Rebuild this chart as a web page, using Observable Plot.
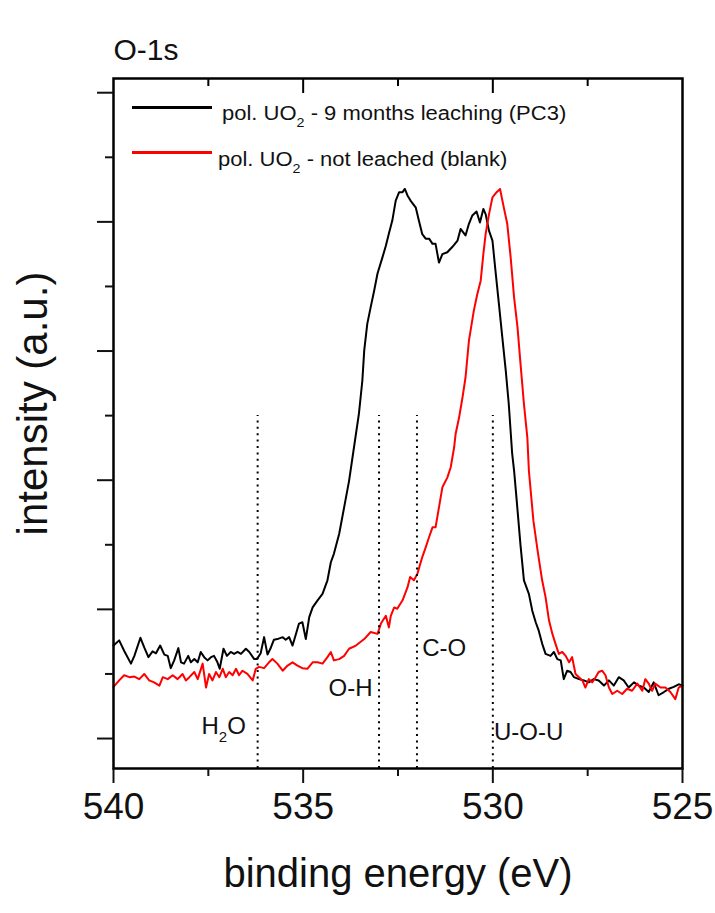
<!DOCTYPE html>
<html><head><meta charset="utf-8">
<script src="https://cdn.jsdelivr.net/npm/d3@7"></script>
<script src="https://cdn.jsdelivr.net/npm/@observablehq/plot@0.6"></script>
<style>
body{margin:0;background:#fff;font-family:"Liberation Sans",Arial,sans-serif;}
#wrap{position:relative;width:715px;height:913px;overflow:hidden;}
.leg{position:absolute;font-size:20px;line-height:20px;color:#111;white-space:nowrap;transform:scaleX(1.1);transform-origin:left center;}
.leg sub{font-size:0.65em;vertical-align:-0.55em;line-height:0;}
.sw{position:absolute;height:3px;}
</style></head><body>
<div id="wrap">
  <div id="chart"></div>
  <div class="sw" style="left:132px;top:106px;width:80px;background:#000"></div>
  <div class="leg" style="left:222px;top:103px">pol. UO<sub>2</sub> - 9 months leaching (PC3)</div>
  <div class="sw" style="left:132px;top:151px;width:80px;background:#f00"></div>
  <div class="leg" style="left:218px;top:149px">pol. UO<sub>2</sub> - not leached (blank)</div>
</div>
<script>
// binding energy (eV) and intensity (a.u.)
const leachedE = [540.00,539.85,539.72,539.54,539.45,539.29,539.19,539.08,538.97,538.88,
538.77,538.66,538.57,538.49,538.40,538.29,538.22,538.14,538.03,537.96,
537.87,537.78,537.70,537.61,537.52,537.43,537.35,537.26,537.20,537.10,
537.01,536.91,536.82,536.73,536.64,536.51,536.42,536.29,536.22,536.12,
536.03,535.94,535.85,535.77,535.68,535.54,535.46,535.37,535.28,535.19,
535.11,535.02,534.93,534.84,534.75,534.62,534.49,534.36,534.27,534.19,
534.05,533.92,533.79,533.66,533.53,533.44,533.39,533.31,533.22,533.13,
533.04,532.91,532.82,532.74,532.65,532.56,532.47,532.38,532.32,532.25,
532.17,532.03,531.95,531.86,531.77,531.68,531.59,531.51,531.42,531.33,
531.20,531.07,530.93,530.85,530.72,530.63,530.54,530.43,530.34,530.25,
530.19,530.10,530.01,529.93,529.84,529.75,529.66,529.58,529.49,529.44,
529.37,529.27,529.18,529.05,528.96,528.87,528.79,528.70,528.61,528.48,
528.39,528.30,528.21,528.13,528.04,527.95,527.86,527.73,527.60,527.47,
527.34,527.21,527.07,526.94,526.81,526.68,526.55,526.42,526.28,526.15,
526.02,525.89,525.76,525.63,525.49,525.36,525.23,525.10,525.00];
const leachedI = [1.44,1.52,1.36,1.16,1.28,1.56,1.41,1.26,1.35,1.32,
1.44,1.30,1.28,1.09,1.21,1.40,1.18,1.16,1.28,1.18,
1.23,1.18,1.34,1.26,1.21,1.26,1.28,1.18,1.08,1.39,
1.28,1.34,1.31,1.34,1.31,1.39,1.34,1.23,1.23,1.32,
1.57,1.30,1.41,1.53,1.54,1.57,1.53,1.57,1.44,1.62,
1.78,1.80,1.54,1.88,2.03,2.14,2.24,2.45,2.73,2.86,
3.17,3.58,3.99,4.51,5.03,5.54,6.01,6.42,6.68,6.93,
7.20,7.45,7.63,7.82,8.02,8.33,8.46,8.46,8.51,8.41,
8.33,8.22,8.02,7.81,7.74,7.74,7.66,7.66,7.37,7.50,
7.53,7.61,7.71,7.89,7.79,7.97,8.10,8.16,7.99,8.20,
8.12,7.86,7.71,7.24,6.73,6.21,5.70,5.18,4.41,4.15,
3.68,2.99,2.45,2.24,1.98,1.80,1.67,1.47,1.31,1.28,
1.34,1.23,1.21,0.92,1.05,1.03,0.95,0.92,0.90,0.87,
0.92,0.90,0.82,0.90,0.82,0.95,0.90,0.79,0.87,0.82,
0.79,0.72,0.87,0.67,0.72,0.77,0.80,0.84,0.82];
const blankE = [540.00,539.85,539.72,539.58,539.45,539.32,539.19,539.06,538.93,538.79,
538.70,538.57,538.44,538.31,538.18,538.09,538.00,537.87,537.78,537.65,
537.56,537.48,537.39,537.30,537.21,537.12,537.04,536.95,536.86,536.77,
536.69,536.60,536.47,536.33,536.25,536.16,536.03,535.90,535.81,535.68,
535.54,535.41,535.28,535.15,535.02,534.89,534.75,534.62,534.49,534.36,
534.27,534.19,534.05,533.92,533.79,533.61,533.39,533.22,533.04,532.95,
532.82,532.74,532.69,532.60,532.52,532.38,532.25,532.18,532.08,531.99,
531.86,531.77,531.68,531.59,531.51,531.42,531.33,531.20,531.11,531.02,
530.98,530.89,530.80,530.72,530.63,530.50,530.41,530.32,530.25,530.19,
530.10,530.01,529.90,529.81,529.71,529.62,529.53,529.44,529.35,529.27,
529.18,529.09,529.05,528.93,528.82,528.70,528.61,528.52,528.43,528.35,
528.26,528.17,528.08,527.99,527.91,527.82,527.73,527.64,527.56,527.47,
527.38,527.29,527.21,527.12,527.03,526.94,526.85,526.72,526.59,526.46,
526.33,526.19,526.06,525.98,525.89,525.80,525.72,525.58,525.45,525.32,
525.19,525.10,525.01];
const blankI = [0.80,0.90,0.98,0.95,0.96,0.92,1.00,0.90,0.87,0.82,
0.95,0.92,0.98,0.92,1.00,0.90,0.95,1.03,0.92,1.16,
0.79,1.00,0.90,1.03,0.95,1.08,0.95,1.03,0.98,1.08,
0.98,1.05,1.00,0.90,1.08,1.11,1.09,1.18,1.23,1.16,
1.05,1.13,1.18,1.13,1.09,1.08,1.18,1.18,1.16,1.26,
1.34,1.21,1.23,1.28,1.39,1.44,1.54,1.65,1.62,1.78,
1.90,1.72,1.90,2.03,2.01,2.14,2.34,2.50,2.45,2.55,
2.81,2.96,3.12,3.27,3.27,3.58,3.89,4.04,4.20,4.51,
4.72,4.97,5.28,5.59,6.16,6.63,6.88,7.09,7.50,7.81,
8.12,8.38,8.46,8.51,8.22,7.97,7.45,6.83,6.37,5.80,
5.18,4.66,4.15,3.37,2.91,2.45,2.19,1.83,1.62,1.47,
1.31,1.34,1.28,1.18,1.26,1.00,0.95,0.90,0.79,0.92,
0.87,0.95,1.03,1.05,0.98,0.79,0.69,0.74,0.69,0.77,
0.74,0.85,0.74,0.92,0.85,0.74,0.85,0.79,0.79,0.72,
0.61,0.79,0.82];

const xMajor = [540, 535, 530, 525];
const xMinor = [537.5, 532.5, 527.5];
const yMajor = [0, 2, 4, 6, 8, 10];
const yMinor = [1, 3, 5, 7, 9];

const peakE = [536.2, 533.0, 532.0, 530.0];
const peakTop = 5;
const labelsLeft = ["H2O", "O-H"];
const labelsLeftE = [536.51, 533.17];
const labelsLeftI = [0.19, 0.77];
const labelsRight = ["C-O", "U-O-U"];
const labelsRightE = [531.86, 529.97];
const labelsRightI = [1.39, 0.09];

const xDomain = [540, 525];
const yDomain = [-0.464, 10.22];

const leached = leachedE.map((e, i) => ({E: e, I: leachedI[i]}));
const blank = blankE.map((e, i) => ({E: e, I: blankI[i]}));
const leftLab = labelsLeft.map((t, i) => ({t, E: labelsLeftE[i], I: labelsLeftI[i]}));
const rightLab = labelsRight.map((t, i) => ({t, E: labelsRightE[i], I: labelsRightI[i]}));

const font = "'Liberation Sans', Arial, sans-serif";
const mTop = 78, mBottom = 145, H = 913;
const frameH = H - mTop - mBottom;
const chart = Plot.plot({
  width: 715, height: H,
  marginLeft: 113, marginRight: 33, marginTop: mTop, marginBottom: mBottom,
  style: {fontFamily: font, color: "#111", background: "white", overflow: "visible"},
  x: {domain: xDomain},
  y: {domain: yDomain},
  marks: [
    Plot.line(leached, {x: "E", y: "I", stroke: "#000", strokeWidth: 2}),
    Plot.line(blank, {x: "E", y: "I", stroke: "#f00", strokeWidth: 2}),
    Plot.ruleX(peakE, {x: d => d, y1: yDomain[0], y2: peakTop, stroke: "#000", strokeWidth: 2, strokeDasharray: "2,4.4"}),
    Plot.text(leftLab, {x: "E", y: "I", text: "t", textAnchor: "end", fontSize: 24, fill: "#111"}),
    Plot.text(rightLab, {x: "E", y: "I", text: "t", textAnchor: "start", fontSize: 24, fill: "#111"}),
    Plot.frame({stroke: "#000", strokeWidth: 2.5}),
    Plot.axisX({anchor: "bottom", ticks: xMajor, tickSize: 15, tickPadding: 9, tickFormat: "d", fontSize: 37, label: null, strokeWidth: 2, fill: "#111"}),
    Plot.axisX({anchor: "bottom", ticks: xMinor, tickSize: 8, tickFormat: () => "", label: null, strokeWidth: 2}),
    Plot.ruleX(xMajor.slice(1, 3), {x: d => d, insetBottom: frameH - 15, stroke: "#000", strokeWidth: 2}),
    Plot.ruleX(xMinor, {x: d => d, insetBottom: frameH - 8, stroke: "#000", strokeWidth: 2}),
    Plot.axisY({anchor: "left", ticks: yMajor, tickSize: 16, tickFormat: () => "", label: null, strokeWidth: 2}),
    Plot.axisY({anchor: "left", ticks: yMinor, tickSize: 8, tickFormat: () => "", label: null, strokeWidth: 2}),
    Plot.text(["O-1s"], {text: d => d, frameAnchor: "top-left", textAnchor: "start", dy: -40, fontSize: 30, fill: "#111"}),
    Plot.text(["binding energy (eV)"], {text: d => d, frameAnchor: "bottom", textAnchor: "middle", dy: 118, fontSize: 40, fill: "#111"}),
    Plot.text(["intensity (a.u.)"], {text: d => d, frameAnchor: "left", textAnchor: "middle", rotate: -90, dx: -80, dy: -20, fontSize: 42, fill: "#111"})
  ]
});
document.getElementById("chart").appendChild(chart);

// subscript for H2O
const NS = "http://www.w3.org/2000/svg";
chart.querySelectorAll("text").forEach(t => {
  if (t.textContent.trim() === "H2O" && t.children.length === 0) {
    t.textContent = "";
    const a = document.createElementNS(NS, "tspan"); a.textContent = "H";
    const b = document.createElementNS(NS, "tspan"); b.textContent = "2";
    b.setAttribute("font-size", "15"); b.setAttribute("dy", "8");
    const c = document.createElementNS(NS, "tspan"); c.textContent = "O"; c.setAttribute("dy", "-8");
    t.append(a, b, c);
  }
});
</script>
</body></html>
